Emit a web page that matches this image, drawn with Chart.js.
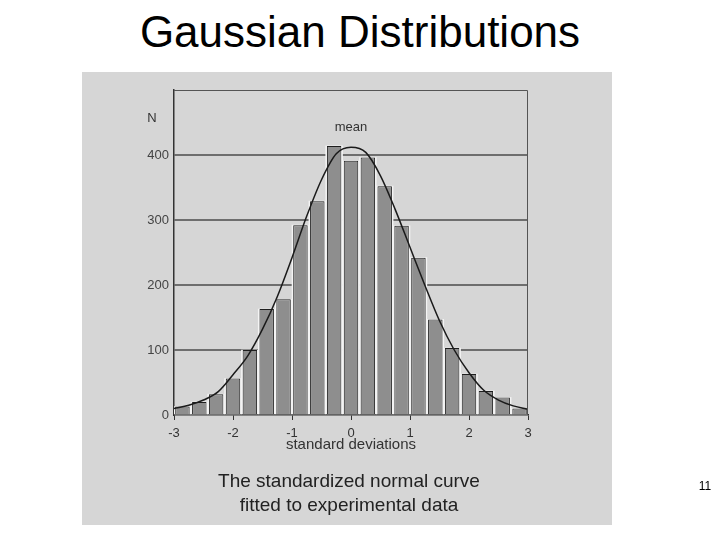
<!DOCTYPE html>
<html>
<head>
<meta charset="utf-8">
<script src="https://cdn.jsdelivr.net/npm/chart.js@4.4.0/dist/chart.umd.min.js"></script>
<style>
  body { margin: 0; background: #fff; }
  #page { position: relative; width: 720px; height: 540px; overflow: hidden; font-family: "Liberation Sans", Arial, sans-serif; }
  #title { position: absolute; left: 0; top: 10px; width: 720px; text-align: center; font-size: 44px; line-height: 44px; color: #000; }
  #panel { position: absolute; left: 82px; top: 72px; width: 530px; height: 453px; background: #d6d6d6; }
  #chart { position: absolute; left: 0; top: 0; }
  #caption { position: absolute; left: 0; top: 397px; width: 534px; text-align: center; font-size: 19px; line-height: 24px; color: #222; }
  #pagenum { position: absolute; left: 690px; top: 479px; width: 30px; text-align: center; font-size: 12px; color: #000; }
</style>
</head>
<body>
<div id="page">
  <div id="title">Gaussian Distributions</div>
  <div id="panel">
    <canvas id="chart" width="530" height="400"></canvas>
    <div id="caption">The standardized normal curve<br>fitted to experimental data</div>
  </div>
  <div id="pagenum">11</div>
</div>
<script>
// histogram bins (standard deviations) and counts
const binCenters = [-2.857, -2.571, -2.286, -2.0, -1.714, -1.429, -1.143, -0.857, -0.571, -0.286, 0,
                    0.286, 0.571, 0.857, 1.143, 1.429, 1.714, 2.0, 2.286, 2.571, 2.857];
const counts = [13, 20, 32, 56, 100, 163, 178, 292, 329, 414, 391,
                396, 352, 291, 242, 147, 103, 63, 37, 27, 10];

// fitted curve
const curveX = [-3, -2.75, -2.5, -2.25, -2, -1.75, -1.5, -1.25, -1, -0.75, -0.5, -0.25, 0,
                0.25, 0.5, 0.75, 1, 1.25, 1.5, 1.75, 2, 2.25, 2.5, 2.75, 3];
const curveN = [10, 15, 23, 36, 62, 91, 132, 182, 242, 306, 362, 402, 412,
                404, 368, 316, 258, 200, 145, 100, 65, 38, 23, 14, 9];

const xTicks = [-3, -2, -1, 0, 1, 2, 3];
const yTicks = [0, 100, 200, 300, 400];

const barPoints = binCenters.map((c, i) => ({ x: c, y: counts[i] }));
const curvePoints = curveX.map((c, i) => ({ x: c, y: curveN[i] }));

const labelsPlugin = {
    id: 'labels',
    afterDatasetsDraw(chart) {
        const { ctx, chartArea, scales: { x, y } } = chart;
        ctx.save();
        // frame on top and right
        ctx.strokeStyle = '#555';
        ctx.lineWidth = 1;
        ctx.beginPath();
        ctx.moveTo(chartArea.left, chartArea.top + 0.5);
        ctx.lineTo(chartArea.right - 0.5, chartArea.top + 0.5);
        ctx.lineTo(chartArea.right - 0.5, chartArea.bottom);
        ctx.stroke();
        ctx.fillStyle = '#333';
        ctx.font = '13px "Liberation Sans", Arial, sans-serif';
        ctx.textAlign = 'center';
        ctx.textBaseline = 'middle';
        ctx.fillText('mean', x.getPixelForValue(0), y.getPixelForValue(442));
        ctx.fillText('N', x.left - 22, y.getPixelForValue(457));
        ctx.restore();
    }
};

new Chart(document.getElementById('chart'), {
    type: 'bar',
    data: {
        datasets: [
            {
                type: 'line',
                data: curvePoints,
                borderColor: '#1a1a1a',
                borderWidth: 1.5,
                pointRadius: 0,
                cubicInterpolationMode: 'monotone',
                order: 0
            },
            {
                data: barPoints,
                backgroundColor: '#8e8e8e',
                borderColor: '#1e1e1e',
                borderWidth: { left: 1, right: 1, top: 1, bottom: 0 },
                borderSkipped: false,
                barPercentage: 0.86,
                categoryPercentage: 1,
                grouped: false,
                order: 1
            },
            {
                data: barPoints,
                backgroundColor: '#f4f4f4',
                borderWidth: 0,
                barPercentage: 1,
                categoryPercentage: 1,
                grouped: false,
                order: 2
            }
        ]
    },
    options: {
        responsive: false,
        animation: false,
        layout: { padding: { left: 0, top: 18, right: 84, bottom: 14 } },
        plugins: { legend: { display: false }, tooltip: { enabled: false } },
        scales: {
            x: {
                type: 'linear',
                min: -3,
                max: 3,
                offset: false,
                afterFit: (s) => { s.height = 43; },
                afterBuildTicks: (s) => { s.ticks = xTicks.map(v => ({ value: v })); },
                grid: { offset: false, drawOnChartArea: false, tickLength: 5, color: '#333' },
                border: { color: '#333', width: 1.5 },
                ticks: {
                    color: '#333',
                    padding: 6,
                    font: { size: 13, family: '"Liberation Sans", Arial, sans-serif' }
                },
                title: {
                    display: true,
                    text: 'standard deviations',
                    color: '#333',
                    padding: { top: 2, bottom: 4 },
                    font: { size: 15, family: '"Liberation Sans", Arial, sans-serif' }
                }
            },
            y: {
                min: 0,
                max: 500,
                afterFit: (s) => { s.width = 92; },
                afterBuildTicks: (s) => { s.ticks = yTicks.concat([500]).map(v => ({ value: v })); },
                grid: {
                    drawTicks: false,
                    lineWidth: 2,
                    color: (c) => (c.tick && yTicks.includes(c.tick.value) && c.tick.value > 0) ? '#6e6e6e' : 'rgba(0,0,0,0)'
                },
                border: { color: '#333', width: 1.5 },
                ticks: {
                    color: '#444',
                    padding: 5,
                    font: { size: 13, family: '"Liberation Sans", Arial, sans-serif' },
                    callback: (v) => yTicks.includes(v) ? String(v) : ''
                }
            }
        }
    },
    plugins: [labelsPlugin]
});
</script>
</body>
</html>
